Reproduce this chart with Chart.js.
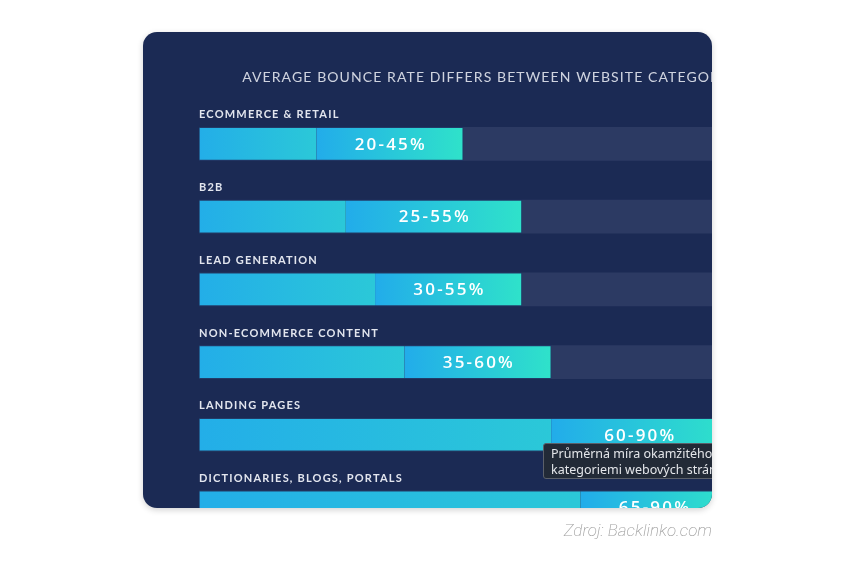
<!DOCTYPE html>
<html>
<head>
<meta charset="utf-8">
<script src="https://cdn.jsdelivr.net/npm/chart.js@4.4.1/dist/chart.umd.min.js"></script>
<style>
  body { margin: 0; background: #ffffff; width: 855px; height: 575px; position: relative; overflow: hidden; }
  #card {
    position: absolute; left: 143px; top: 32px; width: 569px; height: 476px;
    background: #1b2a54; border-radius: 14px; overflow: hidden;
    box-shadow: 0 2px 6px rgba(0, 0, 0, 0.18);
  }
  #chart { position: absolute; left: 0; top: 0; }
  #tip {
    position: absolute; left: 400px; top: 411px; width: 300px; height: 36px;
    background: #222a37; border: 1px solid #5b606a; border-radius: 3px;
    padding: 2px 7px; box-sizing: border-box;
    font: 12.5px "Noto Sans", sans-serif; line-height: 16px; color: #e4e6ea;
    white-space: nowrap;
  }
  #source {
    position: absolute; right: 143px; top: 520px;
    font: italic 200 17px Roboto, sans-serif; color: #a2a2a2;
  }
</style>
</head>
<body>
<div id="card">
  <canvas id="chart" width="700" height="520" style="width:700px;height:520px"></canvas>
  <div id="tip">Průměrná míra okamžitého opuštění se liší mezi<br>kategoriemi webových stránek</div>
</div>
<div id="source">Zdroj: Backlinko.com</div>

<script>
const chartTitle = 'AVERAGE BOUNCE RATE DIFFERS BETWEEN WEBSITE CATEGORIES';
const categories = ['ECOMMERCE & RETAIL', 'B2B', 'LEAD GENERATION', 'NON-ECOMMERCE CONTENT', 'LANDING PAGES', 'DICTIONARIES, BLOGS, PORTALS'];
const lowValues = [20, 25, 30, 35, 60, 65];
const highValues = [45, 55, 55, 60, 90, 90];

// gradient running across one bar piece, from value a to value b
function barGradient(context, from, to, c1, c2) {
    const chart = context.chart;
    if (!chart.chartArea || context.dataIndex === undefined) return c1;
    const x = chart.scales.x;
    const g = chart.ctx.createLinearGradient(x.getPixelForValue(from), 0, x.getPixelForValue(to), 0);
    g.addColorStop(0, c1);
    g.addColorStop(1, c2);
    return g;
}

const labelPlugin = {
    id: 'barLabels',
    afterDatasetsDraw(chart) {
        const ctx = chart.ctx;
        const area = chart.chartArea;
        const meta = chart.getDatasetMeta(0);
        ctx.save();

        // title
        ctx.letterSpacing = '1.1px';
        ctx.font = '400 14px Lato, sans-serif';
        ctx.fillStyle = 'rgba(222, 226, 236, 0.92)';
        ctx.textAlign = 'center';
        ctx.textBaseline = 'middle';
        ctx.fillText(chartTitle, (area.left + area.right) / 2, 45);

        meta.data.forEach((bar, i) => {
            // category name above the bar
            ctx.letterSpacing = '1.2px';
            ctx.font = 'bold 11px Lato, sans-serif';
            ctx.fillStyle = '#e2e5ee';
            ctx.textAlign = 'left';
            ctx.fillText(categories[i], area.left, bar.y - 29);

            // range inside the coloured piece
            ctx.letterSpacing = '2.2px';
            ctx.font = '600 17px "Open Sans", sans-serif';
            ctx.fillStyle = '#ffffff';
            ctx.textAlign = 'center';
            ctx.fillText(lowValues[i] + '-' + highValues[i] + '%', (bar.x + bar.base) / 2 + 1, bar.y + 1);
        });
        ctx.restore();
    }
};

const ctx = document.getElementById('chart').getContext('2d');
new Chart(ctx, {
    type: 'bar',
    data: {
        labels: categories,
        datasets: [{
            label: 'range',
            data: lowValues.map((v, i) => [v, highValues[i]]),
            backgroundColor: c => barGradient(c, lowValues[c.dataIndex], highValues[c.dataIndex], '#22acea', '#2fe2ca'),
            borderColor: 'rgba(22, 60, 110, 0.5)',
            borderWidth: 1,
            borderSkipped: 'left',
            grouped: false,
            barThickness: 33
        }, {
            label: 'low',
            data: lowValues.map(v => [0, v]),
            backgroundColor: c => barGradient(c, 0, lowValues[c.dataIndex], '#23aee8', '#2bc8d8'),
            borderColor: 'rgba(22, 60, 110, 0.5)',
            borderWidth: 1,
            borderSkipped: 'right',
            grouped: false,
            barThickness: 33
        }, {
            label: 'track',
            data: categories.map(() => [0, 100]),
            backgroundColor: '#2c3a63',
            borderWidth: 0,
            grouped: false,
            barThickness: 33
        }]
    },
    options: {
        indexAxis: 'y',
        responsive: false,
        animation: false,
        layout: {
            padding: { left: 56, right: 57, top: 75.6, bottom: 8.2 }
        },
        scales: {
            x: { min: 0, max: 100, display: false },
            y: { display: false }
        },
        plugins: {
            legend: { display: false },
            tooltip: { enabled: false }
        }
    },
    plugins: [labelPlugin]
});
</script>
</body>
</html>
